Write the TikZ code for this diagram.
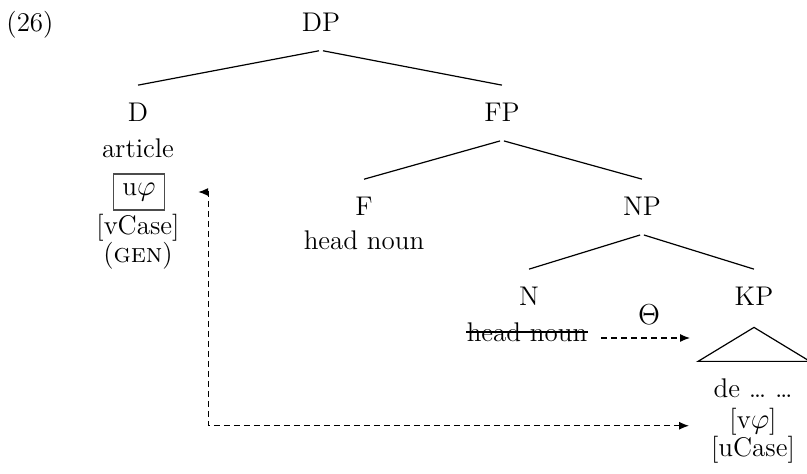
\documentclass[tikz,border=0pt]{standalone}
\usepackage{fontspec}
\usetikzlibrary{arrows.meta}

\tikzset{
  cat/.style={inner xsep=0pt, inner ysep=9pt, anchor=base},
  feat/.style={inner sep=0pt, anchor=base},
  branch/.style={line width=0.6pt, shorten <=1pt},
  agree/.style={line width=0.6pt, dash pattern=on 3pt off 2pt,
    -{Latex[length=5pt,width=4pt]}},
}

\begin{document}
\begin{tikzpicture}[x=0.5pt, y=-0.5pt,
    font=\fontsize{13.5pt}{16pt}\selectfont]
    \useasboundingbox (0,0) rectangle (807,474);
    % Example number
    \node[feat] (exnum) at (30,32) {(26)};
    % Phrase labels
    \node[cat] (DP) at (321,32)  {DP};
    \node[cat] (D)  at (138,122) {D};
    \node[cat] (FP) at (502,122) {FP};
    \node[cat] (F)  at (364,216) {F};
    \node[cat] (NP) at (642,216) {NP};
    \node[cat] (N)  at (529,306) {N};
    \node[cat] (KP) at (754,306) {KP};
    % Branches
    \draw[branch] (DP.south) -- (D.north);
    \draw[branch] (DP.south) -- (FP.north);
    \draw[branch] (FP.south) -- (F.north);
    \draw[branch] (FP.south) -- (NP.north);
    \draw[branch] (NP.south) -- (N.north);
    \draw[branch] (NP.south) -- (KP.north);
    % KP triangle (runs off the right edge)
    \draw[line width=0.6pt] ([yshift=-1.5pt]KP.south) -- ++(-56,34)
      -- ++(112,0) -- cycle;
    % D column
    \node[feat] (art) at (138,158) {article};
    \node[draw=black!70, line width=0.6pt, inner xsep=4.5pt,
      minimum height=18pt] (uphi) at (139,192) {u$\varphi$};
    \node[feat] (vcase) at (138,235) {[vCase]};
    \node[feat] (gen)   at (138,263) {(\textsc{gen})};
    % F and N words
    \node[feat] (fhead) at (364,250) {head noun};
    \node[feat] (nhead) at (527,342) {head noun};
    \draw[line width=0.6pt] ([yshift=5pt]nhead.base west)
      -- ([yshift=5pt]nhead.base east);
    % KP contents
    \node[feat] (de)    at (753,398) {de \ldots{} \ldots};
    \node[feat] (vphi)  at (753,429) {[v$\varphi$]};
    \node[feat] (ucase) at (753,457) {[uCase]};
    % Theta arrow
    \coordinate (theta-end) at (690,338);
    \draw[agree, shorten <=6.75pt] (nhead.east |- theta-end) -- (theta-end);
    \node[feat] (theta) at (649,325) {$\Theta$};
    % Agreement arrow
    \draw[agree, {Latex[length=5pt,width=4pt]}-{Latex[length=5pt,width=4pt]},
      shorten <=16.5pt, shorten >=20pt]
      (uphi.east) -- ++(43,0) |- ([yshift=-1.75pt]vphi.west);
\end{tikzpicture}
\end{document}
